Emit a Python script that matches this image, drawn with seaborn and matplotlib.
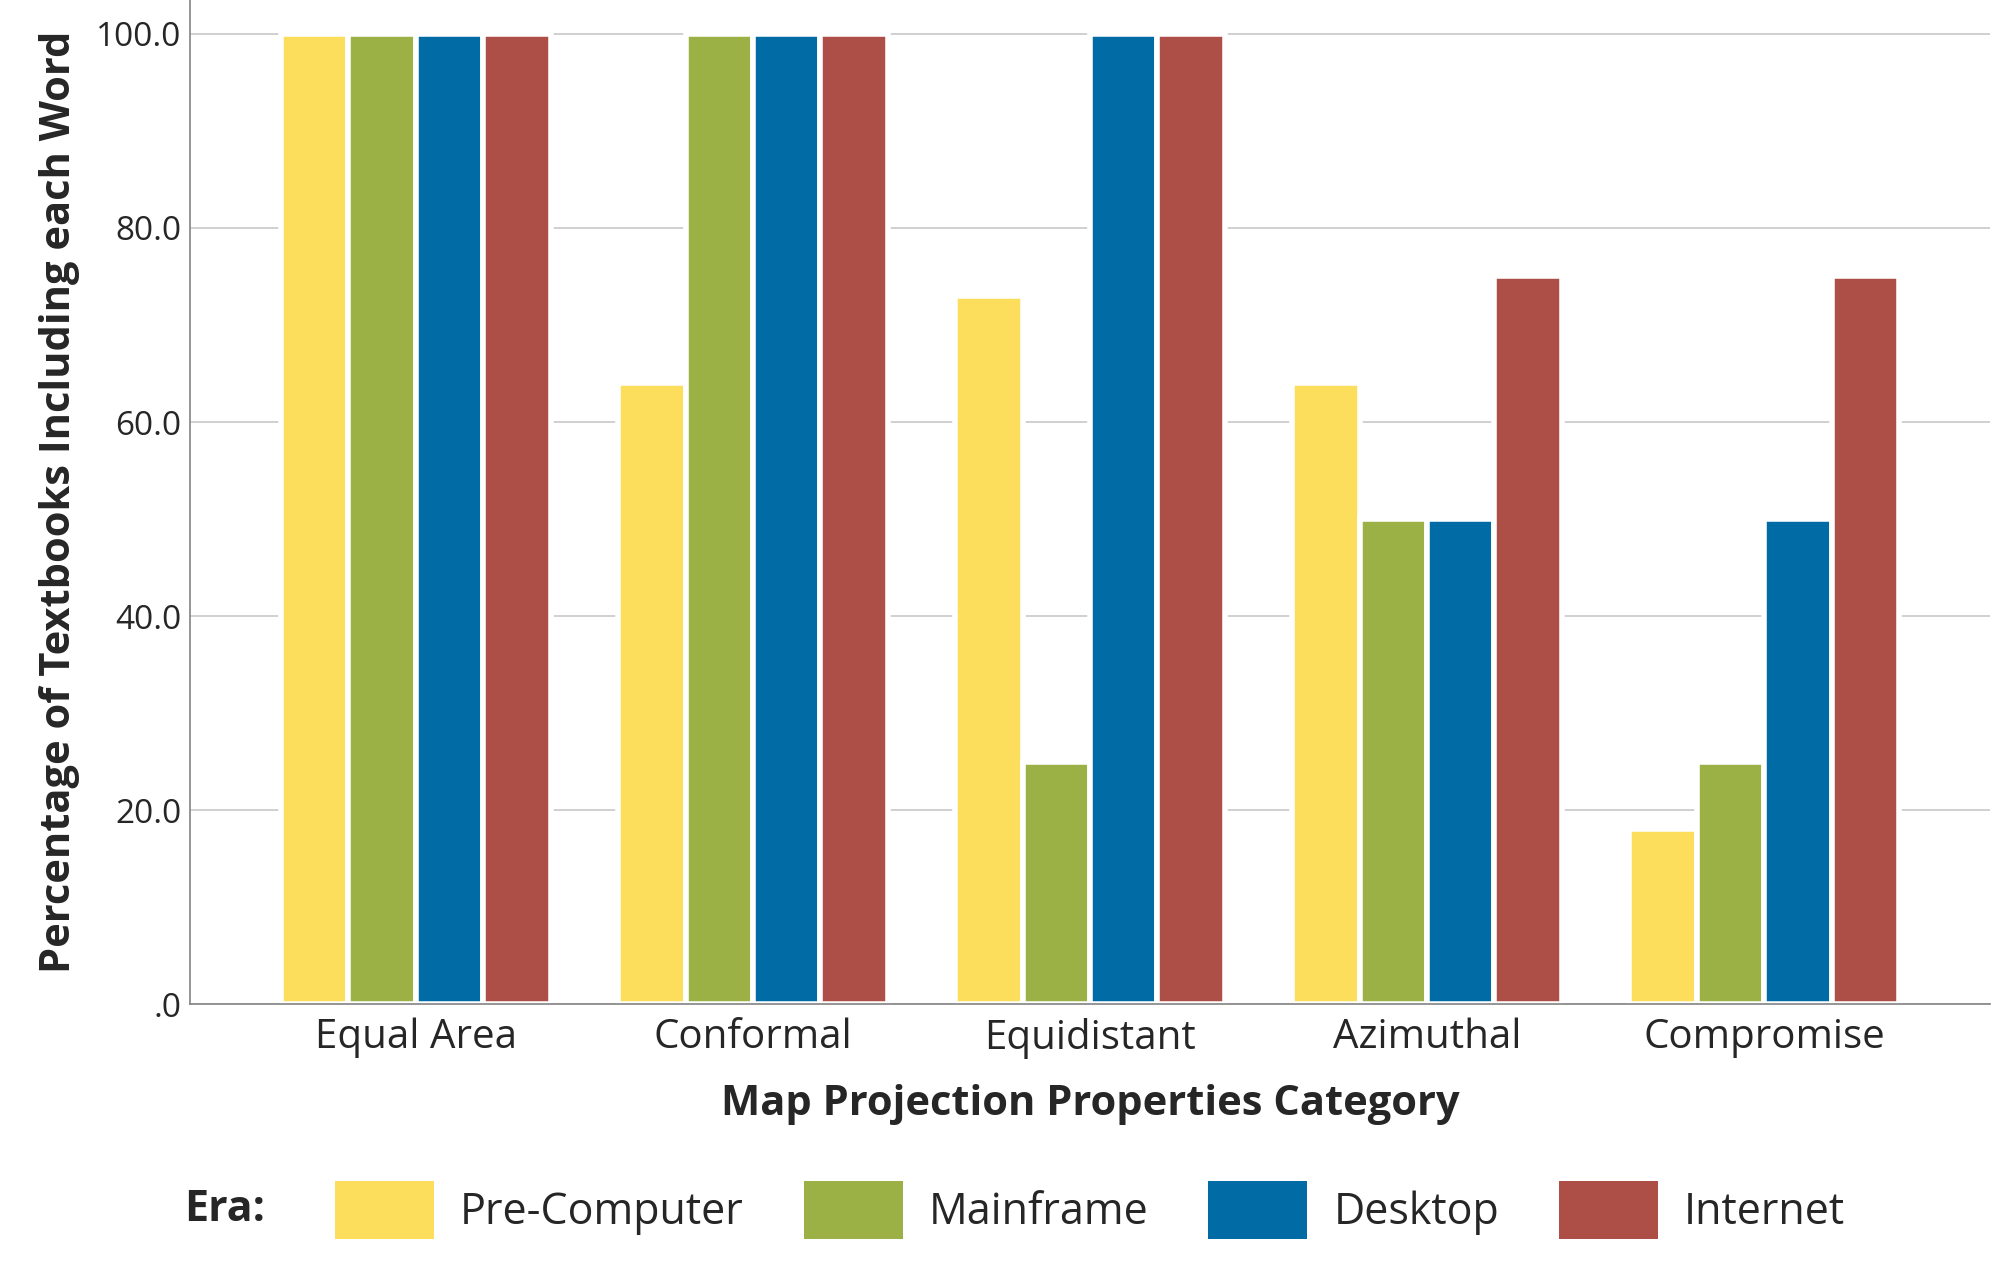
import matplotlib
matplotlib.use("Agg")
import matplotlib.pyplot as plt
import seaborn as sns
import pandas as pd
from matplotlib.ticker import FuncFormatter
from matplotlib.patches import Patch

categories = ["Equal Area", "Conformal", "Equidistant", "Azimuthal", "Compromise"]
eras = ["Pre-Computer", "Mainframe", "Desktop", "Internet"]
pre_computer = [100, 64, 73, 64, 18]
mainframe = [100, 100, 25, 50, 25]
desktop = [100, 100, 100, 50, 50]
internet = [100, 100, 100, 75, 75]
colors = ["#FDDD5C", "#9BB045", "#006BA4", "#AD4F47"]

rows = []
for era, vals in zip(eras, [pre_computer, mainframe, desktop, internet]):
    for c, v in zip(categories, vals):
        rows.append({"Category": c, "Era": era, "Value": v})
df = pd.DataFrame(rows)

sns.set_theme(style="white")
plt.rcParams['font.family'] = ['Open Sans', 'DejaVu Sans']

fig = plt.figure(figsize=(20, 12.71), dpi=100)
ax = fig.add_axes([0.095, 0.21, 0.9, 0.79])
sns.barplot(data=df, x="Category", y="Value", hue="Era", palette=colors,
            width=0.8, edgecolor="white", linewidth=4, ax=ax, legend=False, saturation=1)
ax.set_xlim(-0.67, 4.67)
ax.set_ylim(0, 103.5)
ax.set_yticks([0, 20, 40, 60, 80, 100])
ax.yaxis.set_major_formatter(FuncFormatter(lambda v, p: ".0" if v == 0 else f"{v:.1f}"))
ax.grid(axis="y", color="#c8c8c8", linewidth=1.2)
ax.set_axisbelow(True)
for s in ["top", "right"]:
    ax.spines[s].set_visible(False)
for s in ["left", "bottom"]:
    ax.spines[s].set_color("#888888")
ax.tick_params(axis="x", labelsize=29, length=0, pad=10)
ax.tick_params(axis="y", labelsize=24, length=0, pad=6)
ax.set_xlabel("Map Projection Properties Category", fontsize=30, fontweight="bold", labelpad=18)
ax.set_ylabel("Percentage of Textbooks Including each Word", fontsize=30, fontweight="bold", labelpad=12)

handles = [Patch(facecolor=c, edgecolor="none") for c in colors]
fig.legend(handles, eras, loc="center", bbox_to_anchor=(0.545, 0.048), ncol=4, frameon=False,
           fontsize=31, handlelength=2.3, handleheight=1.7, columnspacing=1.4, handletextpad=0.6)
fig.text(0.092, 0.048, "Era:", fontsize=31, fontweight="bold", va="center")
fig.savefig("out.png", dpi=100)
